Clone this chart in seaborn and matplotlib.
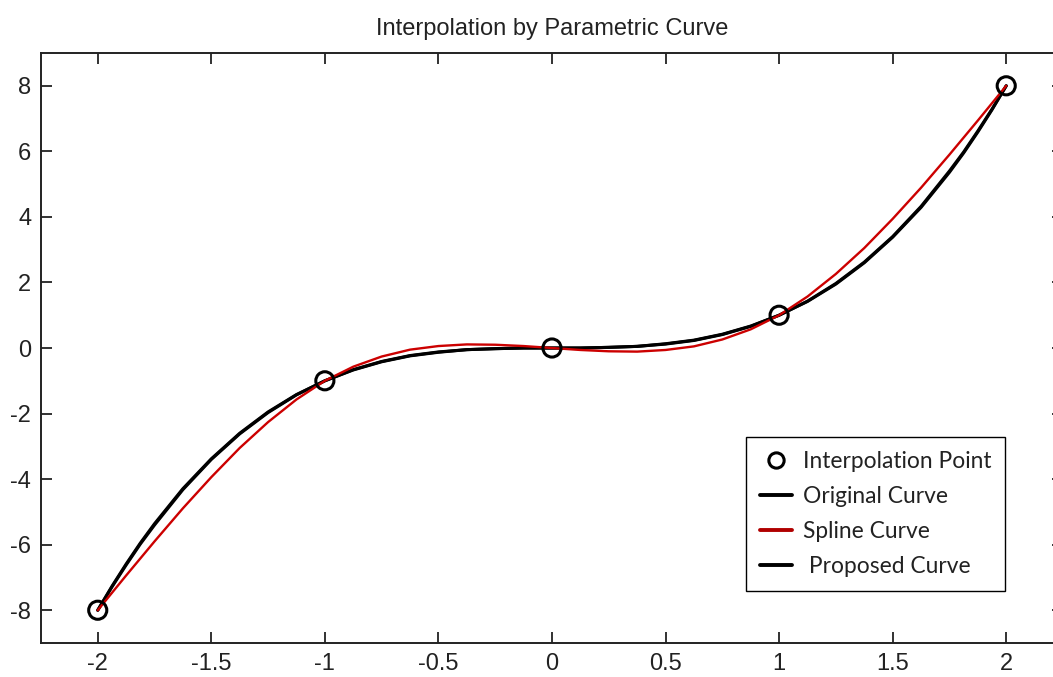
import numpy as np
import pandas as pd
import matplotlib
matplotlib.use('Agg')
import matplotlib.pyplot as plt
from matplotlib.lines import Line2D
import seaborn as sns


# sample positions along the curve
x_vals = [-2.0, -1.9375, -1.875, -1.8125, -1.75, -1.625, -1.5, -1.375, -1.25, -1.125,
          -1.0, -0.875, -0.75, -0.625, -0.5, -0.375, -0.25, -0.125,
          0.0, 0.125, 0.25, 0.375, 0.5, 0.625, 0.75, 0.875,
          1.0, 1.125, 1.25, 1.375, 1.5, 1.625, 1.75, 1.8125, 1.875, 1.9375, 2.0]

original_curve = [-8.0, -7.27, -6.59, -5.95, -5.36, -4.29, -3.38, -2.60, -1.95, -1.42,
                  -1.0, -0.67, -0.42, -0.24, -0.13, -0.05, -0.02, 0.0,
                  0.0, 0.0, 0.02, 0.05, 0.13, 0.24, 0.42, 0.67,
                  1.0, 1.42, 1.95, 2.60, 3.38, 4.29, 5.36, 5.95, 6.59, 7.27, 8.0]

spline_curve = [-8.0, -7.47, -6.94, -6.42, -5.90, -4.89, -3.94, -3.05, -2.26, -1.57,
                -1.0, -0.57, -0.26, -0.05, 0.06, 0.11, 0.10, 0.06,
                0.0, -0.06, -0.10, -0.11, -0.06, 0.05, 0.26, 0.57,
                1.0, 1.57, 2.26, 3.05, 3.94, 4.89, 5.90, 6.42, 6.94, 7.47, 8.0]

proposed_curve = [-8.0, -7.29, -6.62, -5.98, -5.40, -4.32, -3.40, -2.62, -1.97, -1.43,
                  -1.0, -0.66, -0.41, -0.23, -0.12, -0.05, -0.02, 0.0,
                  0.0, 0.0, 0.02, 0.05, 0.12, 0.23, 0.41, 0.66,
                  1.0, 1.43, 1.97, 2.62, 3.40, 4.32, 5.40, 5.98, 6.62, 7.29, 8.0]

# interpolation nodes
pts_x = [-2, -1, 0, 1, 2]
pts_y = [-8, -1, 0, 1, 8]

x_ticks = [-2, -1.5, -1, -0.5, 0, 0.5, 1, 1.5, 2]
x_ticklabels = ['-2', '-1.5', '-1', '-0.5', '0', '0.5', '1', '1.5', '2']
y_ticks = [-8, -6, -4, -2, 0, 2, 4, 6, 8]

legend_labels = ['Interpolation Point', 'Original Curve', 'Spline Curve', ' Proposed Curve']


sns.set_style('ticks')
plt.rcParams['font.family'] = ['Liberation Sans', 'DejaVu Sans']
plt.rcParams['axes.unicode_minus'] = False

fig = plt.figure(figsize=(10.53, 6.77), dpi=100)
# right spine sits just outside the canvas, like the cropped original
ax = fig.add_axes([0.0389, 0.0502, 0.9706, 0.8715])

df = pd.DataFrame({'x': x_vals, 'original': original_curve,
                   'spline': spline_curve, 'proposed': proposed_curve})

sns.lineplot(data=df, x='x', y='original', color='black', lw=2.2, ax=ax, zorder=2)
sns.lineplot(data=df, x='x', y='proposed', color='black', lw=2.2, ax=ax, zorder=2)
sns.lineplot(data=df, x='x', y='spline', color='#cc0000', lw=1.7, ax=ax, zorder=3)
sns.scatterplot(x=pts_x, y=pts_y, ax=ax, s=170, marker='o', facecolor='none',
                edgecolor='black', linewidth=2.2, zorder=4)

ax.set(xlim=(-2.25, 2.25), ylim=(-9, 9), xlabel=None, ylabel=None)
ax.set_xticks(x_ticks, labels=x_ticklabels)
ax.set_yticks(y_ticks)
ax.tick_params(direction='in', top=True, right=True, length=8, width=1.3,
               labelsize=17, pad=7, colors='#222222')
for sp in ax.spines.values():
    sp.set_linewidth(1.4)
    sp.set_color('#222222')

ax.set_title('Interpolation by Parametric Curve', fontsize=17, color='#222222', pad=13)

# legend
handles = [Line2D([], [], ls='none', marker='o', ms=11, mfc='none', mec='black', mew=2.2),
           Line2D([], [], color='black', lw=2.8),
           Line2D([], [], color='#b00000', lw=2.8),
           Line2D([], [], color='black', lw=2.8)]
leg = ax.legend(handles, legend_labels, loc='upper left', bbox_to_anchor=(0.6898, 0.349),
                frameon=True, fancybox=False, framealpha=1, edgecolor='black',
                prop={'family': 'Lato', 'size': 16.4}, handlelength=1.4, handletextpad=0.5,
                labelspacing=0.62, borderpad=0.6, borderaxespad=0)
leg.get_frame().set_linewidth(1.0)
for t in leg.get_texts():
    t.set_color('#222222')

fig.savefig('out.png', dpi=100)
